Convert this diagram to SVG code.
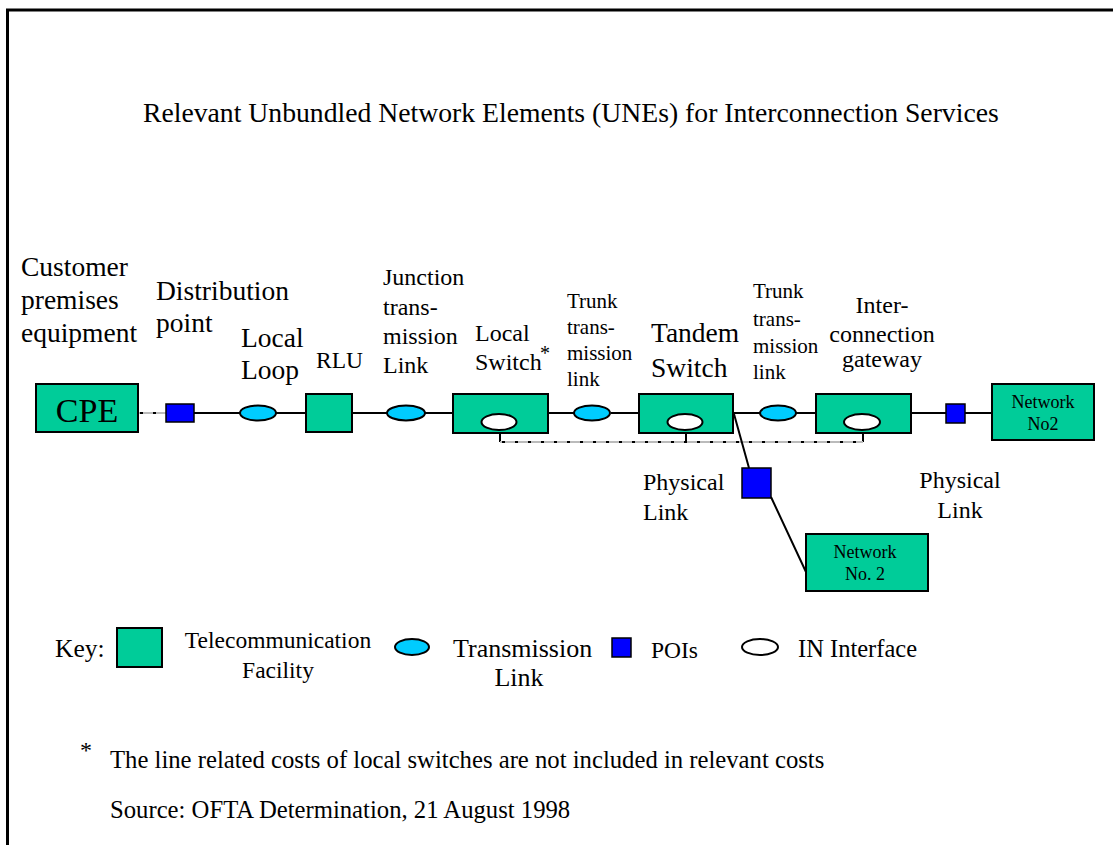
<svg xmlns="http://www.w3.org/2000/svg" width="1113" height="845" viewBox="0 0 1113 845" font-family="'Liberation Serif', 'Times New Roman', serif">
<style>
text{font-family:"Liberation Serif","Times New Roman",serif;fill:#000}
.fac{fill:#00CC99;stroke:#000;stroke-width:2}
.poi{fill:#0000FF;stroke:#000;stroke-width:1.5}
.tl{fill:#00CCFF;stroke:#000;stroke-width:2}
.inif{fill:#fff;stroke:#000;stroke-width:2}
.ln{stroke:#000;stroke-width:2;fill:none}
.dotg{stroke:#bbb;stroke-width:2;fill:none}
.dotb{stroke:#000;stroke-width:2;fill:none;stroke-dasharray:3 10}
.big{font-family:"Liberation Serif","Times New Roman",serif;font-size:27.5px}
.mid{font-family:"Liberation Serif","Times New Roman",serif;font-size:24px}
.sm{font-family:"Liberation Serif","Times New Roman",serif;font-size:21px}
.net{font-family:"Liberation Serif","Times New Roman",serif;font-size:18px}
</style>
<rect width="1113" height="845" fill="#fff"/>
<path d="M7.5 845 V10 H1113" fill="none" stroke="#000" stroke-width="3"/>
<text x="143" y="122" font-family="Liberation Serif, serif" font-size="27.7">Relevant Unbundled Network Elements (UNEs) for Interconnection Services</text>

<g id="connectors">
<line class="dotg" x1="138" y1="413" x2="166" y2="413"/>
<line class="dotb" x1="140" y1="413" x2="166" y2="413"/>
<path class="ln" d="M194 413H240M276 413H306M352 413H387M425 413H453M548 413H574M611 413H639M733 413H760M796 413H816M911 413H946M965 413H992"/>
<path class="ln" d="M500 433V442M686 433V442M863 433V442"/>
<line class="dotg" x1="500" y1="442" x2="863" y2="442"/>
<line class="dotb" x1="502" y1="442" x2="863" y2="442"/>
<path class="ln" d="M734 414L749 468M771 497L806 572"/>
</g>

<g id="cpe" font-family="Liberation Serif, serif"><rect class="fac" x="36" y="384" width="102" height="48"/><text x="87" y="422" text-anchor="middle" font-size="34">CPE</text>
<text class="big" x="21" y="276">Customer</text><text class="big" x="21" y="309">premises</text><text class="big" x="21" y="342">equipment</text></g>
<g id="dp" font-family="Liberation Serif, serif"><rect class="poi" x="166" y="404" width="28" height="18"/><text class="big" x="156" y="300">Distribution</text><text class="big" x="156" y="332">point</text></g>
<g id="localloop" font-family="Liberation Serif, serif"><ellipse class="tl" cx="258" cy="413" rx="18" ry="7.5"/><text class="big" x="241" y="347">Local</text><text class="big" x="241" y="379">Loop</text></g>
<g id="rlu" font-family="Liberation Serif, serif"><rect class="fac" x="306" y="394" width="46" height="38"/><text x="316" y="368" font-size="23.5">RLU</text></g>
<g id="junction" font-family="Liberation Serif, serif"><ellipse class="tl" cx="406" cy="413" rx="19" ry="7.5"/><text class="mid" x="383" y="285">Junction</text><text class="mid" x="383" y="315">trans-</text><text class="mid" x="383" y="344">mission</text><text class="mid" x="383" y="373">Link</text></g>
<g id="localswitch" font-family="Liberation Serif, serif"><rect class="fac" x="453" y="394" width="95" height="39"/><ellipse class="inif" cx="499" cy="422" rx="17.5" ry="8"/><text class="mid" x="475" y="341">Local</text><text class="mid" x="475" y="370">Switch</text><text x="540" y="360" font-size="20">*</text></g>
<g id="trunk1" font-family="Liberation Serif, serif"><ellipse class="tl" cx="592" cy="413" rx="18" ry="7.5"/><text class="sm" x="567" y="308">Trunk</text><text class="sm" x="567" y="334">trans-</text><text class="sm" x="567" y="360">mission</text><text class="sm" x="567" y="386">link</text></g>
<g id="tandem" font-family="Liberation Serif, serif"><rect class="fac" x="639" y="394" width="94" height="39"/><ellipse class="inif" cx="685" cy="422" rx="17.5" ry="8"/><text class="big" x="651" y="342">Tandem</text><text class="big" x="651" y="377">Switch</text></g>
<g id="trunk2" font-family="Liberation Serif, serif"><ellipse class="tl" cx="778" cy="413" rx="18" ry="7.5"/><text class="sm" x="753" y="298">Trunk</text><text class="sm" x="753" y="326">trans-</text><text class="sm" x="753" y="353">mission</text><text class="sm" x="753" y="379">link</text></g>
<g id="gateway" font-family="Liberation Serif, serif"><rect class="fac" x="816" y="394" width="95" height="39"/><ellipse class="inif" cx="862" cy="422" rx="18" ry="8"/><text class="mid" x="882" y="313" text-anchor="middle">Inter-</text><text class="mid" x="882" y="342" text-anchor="middle">connection</text><text class="mid" x="882" y="367" text-anchor="middle">gateway</text></g>
<g id="poi2"><rect class="poi" x="946" y="404" width="19" height="19"/></g>
<g id="network1" font-family="Liberation Serif, serif"><rect class="fac" x="992" y="384" width="102" height="56"/><text class="net" x="1043" y="408" text-anchor="middle">Network</text><text class="net" x="1043" y="430" text-anchor="middle">No2</text></g>
<g id="physlink1" font-family="Liberation Serif, serif"><rect class="poi" x="742" y="468" width="29" height="30"/><text class="mid" x="643" y="490">Physical</text><text class="mid" x="643" y="520">Link</text></g>
<g id="network2" font-family="Liberation Serif, serif"><rect class="fac" x="806" y="534" width="122" height="57"/><text class="net" x="865" y="558" text-anchor="middle">Network</text><text class="net" x="865" y="580" text-anchor="middle">No. 2</text></g>
<g id="physlink2" font-family="Liberation Serif, serif"><text class="mid" x="960" y="488" text-anchor="middle">Physical</text><text class="mid" x="960" y="518" text-anchor="middle">Link</text></g>

<g id="key" font-family="Liberation Serif, serif">
<text x="55" y="657" font-size="25.5">Key:</text>
<rect class="fac" x="117" y="628" width="45" height="39"/>
<text x="278" y="648" text-anchor="middle" font-size="23.5">Telecommunication</text>
<text x="278" y="678" text-anchor="middle" font-size="23.5">Facility</text>
<ellipse class="tl" cx="412" cy="647" rx="17" ry="8"/>
<text x="453" y="657" font-size="26">Transmission</text>
<text x="519" y="686" text-anchor="middle" font-size="26">Link</text>
<rect class="poi" x="612" y="638" width="19" height="19"/>
<text x="651" y="658" font-size="23.5">POIs</text>
<ellipse class="inif" cx="760" cy="647" rx="18" ry="8"/>
<text x="798" y="657" font-size="24.5">IN Interface</text>
</g>

<g id="notes" font-family="Liberation Serif, serif">
<text x="80" y="758" font-size="24">*</text>
<text x="110" y="768" font-size="24.7">The line related costs of local switches are not included in relevant costs</text>
<text x="110" y="818" font-size="24.7">Source: OFTA Determination, 21 August 1998</text>
</g>
</svg>
